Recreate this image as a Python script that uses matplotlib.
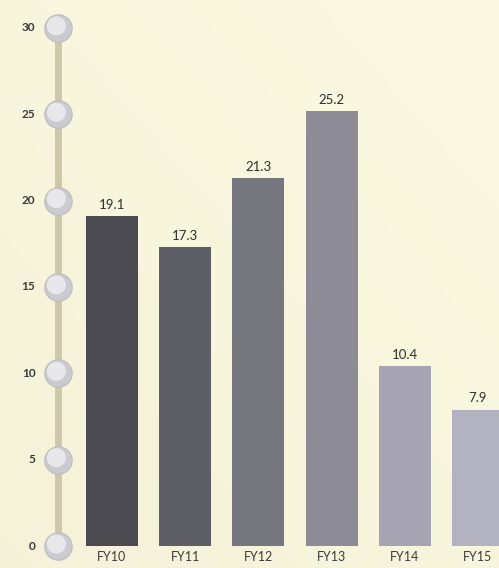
import numpy as np
import matplotlib
matplotlib.use('Agg')
from matplotlib import pyplot as plt

# Revenue per fiscal year
years = ['FY10', 'FY11', 'FY12', 'FY13', 'FY14', 'FY15']
values = [19.1, 17.3, 21.3, 25.2, 10.4, 7.9]
bar_colors = ['#4b4a50', '#5e5e66', '#76767f', '#8c8b96', '#a6a4b3', '#b3b2c1']

# Scale on the left "slider"
scale_ticks = [0, 5, 10, 15, 20, 25, 30]

plt.rcParams['font.family'] = ['Lato', 'DejaVu Sans']

fig = plt.figure(figsize=(4.99, 5.68), dpi=100)
ax = fig.add_axes([0, 0, 1, 1])
ax.set_xlim(-1.53, 5.287)
ax.set_ylim(-1.274, 31.62)
ax.axis('off')

# Cream background, a bit lighter towards the top right
gx, gy = np.meshgrid(np.linspace(0, 1, 200), np.linspace(0, 1, 200))
shade = 0.5 * gx + 0.5 * gy
bg_low = np.array([0.963, 0.948, 0.852])
bg_high = np.array([0.988, 0.978, 0.888])
bg = bg_low + (bg_high - bg_low) * shade[..., None]
ax.imshow(bg, extent=[0, 1, 0, 1], transform=ax.transAxes, origin='lower',
          aspect='auto', zorder=0)

x = np.arange(len(years))
bars = ax.bar(x, values, width=0.71, color=bar_colors, zorder=2)

for xi, v in zip(x, values):
    ax.text(xi, v + 0.3, f'{v}', ha='center', va='bottom', fontsize=9.5,
            color='#2e2e2e', zorder=3)
    ax.text(xi, -0.62, years[xi], ha='center', va='center', fontsize=9,
            color='#3a3a3a', zorder=3)

# Slider scale: stem with knobs at each tick
tr = ax.get_yaxis_transform()
stem_x = 0.116
ax.plot([stem_x, stem_x], [scale_ticks[0], scale_ticks[-1]], transform=tr,
        color='#cec8ab', lw=5, solid_capstyle='butt', zorder=3)
ax.scatter([stem_x] * len(scale_ticks), scale_ticks, transform=tr, s=390,
           color='#cbcace', edgecolors='#bdbcc0', linewidths=0.8, zorder=4)
ax.scatter([stem_x - 0.003] * len(scale_ticks), [t + 0.12 for t in scale_ticks],
           transform=tr, s=190, color='#e8e7eb', edgecolors='none', zorder=5)
for t in scale_ticks:
    ax.text(0.071, t, str(t), transform=tr, ha='right', va='center',
            fontsize=8.5, fontweight='bold', color='#3a3a3a', zorder=4)

fig.savefig('out.png', dpi=100)
